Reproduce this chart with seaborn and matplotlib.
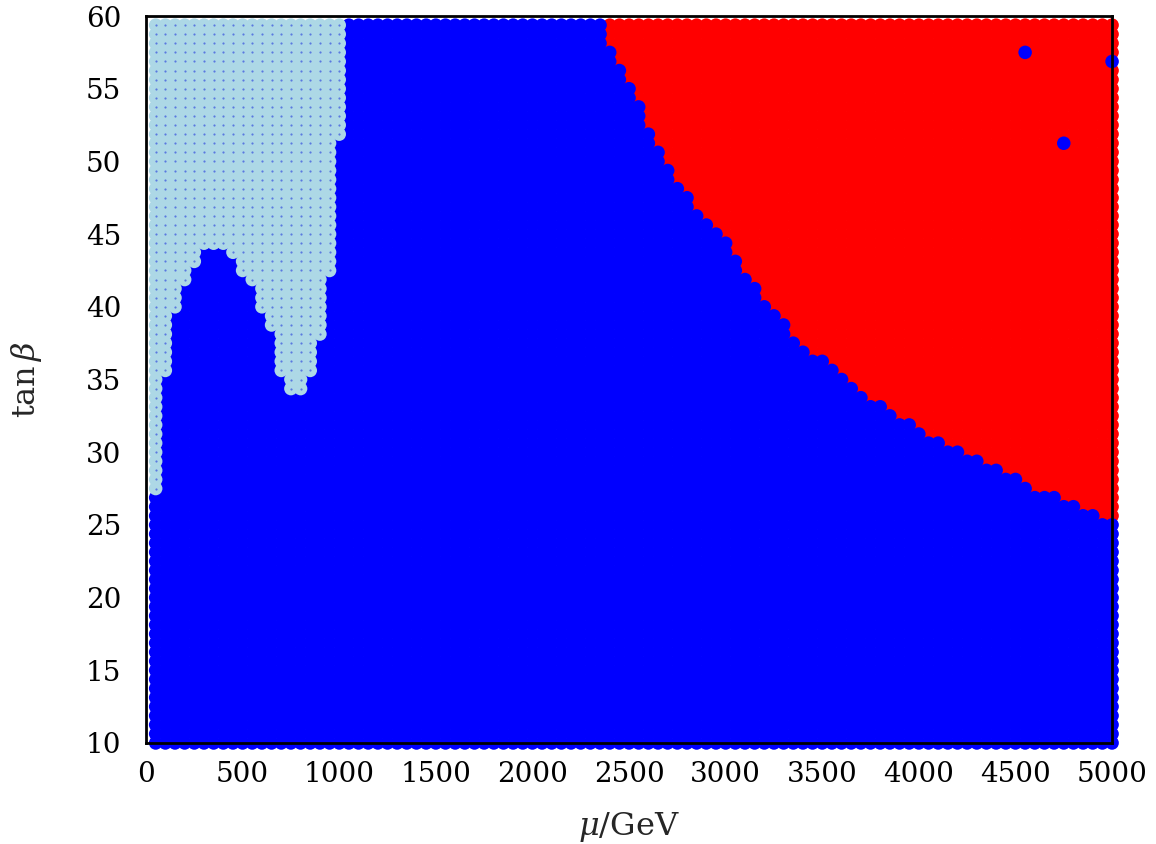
import numpy as np
import pandas as pd
import matplotlib
matplotlib.use("Agg")
import matplotlib.pyplot as plt
import seaborn as sns

# ---- data ----
# scan grid
mu_values = np.arange(50, 5001, 50)            # mu / GeV
tanb_values = 10 + 0.625 * np.arange(80)        # tan beta

# light-blue region: for mu columns below this list, points with tanb >= threshold
lb_mu = [50, 100, 150, 200, 250, 300, 350, 400, 450, 500,
         550, 600, 650, 700, 750, 800, 850, 900, 950, 1000]
lb_tanb_min = [27.0, 35.5, 39.4, 41.4, 42.8, 43.8, 43.8, 43.8, 43.3, 42.4,
               41.4, 39.9, 38.4, 35.4, 33.9, 33.9, 35.4, 38.0, 42.4, 51.4]

# red region: for each mu column, points with tanb >= threshold
red_mu = [2400, 2450, 2500, 2550, 2600, 2650, 2700, 2750, 2800, 2850,
          2900, 2950, 3000, 3050, 3100, 3150, 3200, 3250, 3300, 3350,
          3400, 3450, 3500, 3550, 3600, 3650, 3700, 3750, 3800, 3850,
          3900, 3950, 4000, 4050, 4100, 4150, 4200, 4250, 4300, 4350,
          4400, 4450, 4500, 4550, 4600, 4650, 4700, 4750, 4800, 4850,
          4900, 4950, 5000]
red_tanb_min = [58.1, 56.6, 55.2, 53.8, 52.5, 51.0, 49.7, 48.6, 47.7, 46.8,
                46.0, 45.3, 44.4, 43.2, 42.3, 41.4, 40.6, 39.8, 38.9, 38.1,
                37.4, 36.8, 36.3, 35.8, 35.2, 34.6, 34.1, 33.6, 33.2, 32.8,
                32.4, 32.0, 31.6, 31.1, 30.8, 30.4, 30.1, 29.8, 29.5, 29.2,
                28.9, 28.5, 28.2, 27.8, 27.5, 27.2, 26.9, 26.6, 26.3, 26.0,
                25.7, 25.4, 25.1]

# isolated blue points inside the red region
outlier_mu = [4550, 4750, 5000]
outlier_tanb = [57.5, 51.25, 56.875]

xticks = [0, 500, 1000, 1500, 2000, 2500, 3000, 3500, 4000, 4500, 5000]
yticks = [10, 15, 20, 25, 30, 35, 40, 45, 50, 55, 60]

# ---- build the classified grid ----
lb_map = dict(zip(lb_mu, lb_tanb_min))
red_map = dict(zip(red_mu, red_tanb_min))
outliers = set(zip(outlier_mu, outlier_tanb))

rows = []
for m in mu_values:
    for t in tanb_values:
        cat = "blue"
        if m in lb_map and t >= lb_map[m] - 1e-9:
            cat = "lightblue"
        elif m in red_map and t >= red_map[m] - 1e-9:
            cat = "red"
        if (int(m), float(t)) in outliers:
            cat = "blue"
        rows.append((m, t, cat))
df = pd.DataFrame(rows, columns=["mu", "tanb", "cat"])

sns.set_style("white")
plt.rcParams["font.family"] = ["DejaVu Serif"]
plt.rcParams["mathtext.fontset"] = "dejavuserif"

fig = plt.figure(figsize=(11.56, 8.44), dpi=100)
ax = fig.add_axes([0.1263, 0.1197, 0.8357, 0.8613])

palette = {"red": "#ff0000", "blue": "#0000ff", "lightblue": "#add8e6"}
S = 95
sns.scatterplot(data=df[df.cat == "red"], x="mu", y="tanb", hue="cat",
                palette=palette, s=S, linewidth=0, legend=False, ax=ax,
                clip_on=False, zorder=1)
sns.scatterplot(data=df[df.cat == "blue"], x="mu", y="tanb", hue="cat",
                palette=palette, s=S, linewidth=0, legend=False, ax=ax,
                clip_on=False, zorder=1.1)
sns.scatterplot(data=df[df.cat == "lightblue"], x="mu", y="tanb", hue="cat",
                palette=palette, s=S, linewidth=0, legend=False, ax=ax,
                clip_on=False, zorder=1.2)
sns.scatterplot(data=df[df.cat == "lightblue"], x="mu", y="tanb",
                color="#5a78e0", s=2.5, linewidth=0, legend=False, ax=ax,
                clip_on=False, zorder=1.3)

ax.set_xlim(0, 5000)
ax.set_ylim(10, 60)
ax.set_xticks(xticks)
ax.set_yticks(yticks)
ax.set_xticklabels([str(v) for v in xticks])
ax.set_yticklabels([str(v) for v in yticks])
ax.tick_params(axis="both", direction="out", length=4, width=1.5,
               labelsize=20, colors="black")
ax.tick_params(axis="x", pad=9)
ax.tick_params(axis="y", pad=14)
for sp in ax.spines.values():
    sp.set_visible(True)
    sp.set_color("black")
    sp.set_linewidth(2)
    sp.set_zorder(3)

ax.set_xlabel(r"$\mu/\mathrm{GeV}$", fontsize=23, labelpad=16)
ax.set_ylabel(r"$\tan\beta$", fontsize=23, labelpad=30)

fig.savefig("out.png", dpi=100)
